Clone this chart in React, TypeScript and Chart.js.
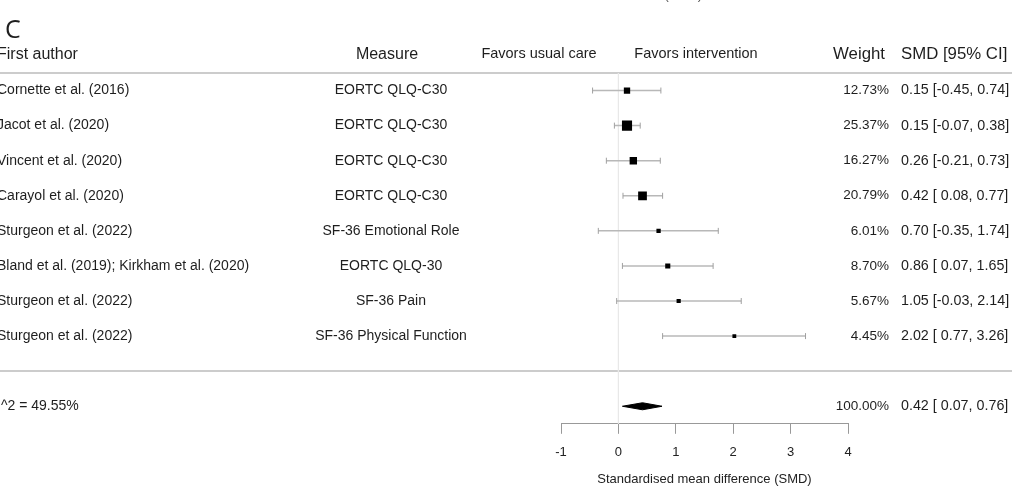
import { useEffect, useRef } from "react";
import { Chart, registerables } from "chart.js";

Chart.register(...registerables);

const FONT = '"Liberation Sans", Arial, Helvetica, sans-serif';

// ---- data ----
const authors = [
  "Cornette et al. (2016)",
  "Jacot et al. (2020)",
  "Vincent et al. (2020)",
  "Carayol et al. (2020)",
  "Sturgeon et al. (2022)",
  "Bland et al. (2019); Kirkham et al. (2020)",
  "Sturgeon et al. (2022)",
  "Sturgeon et al. (2022)",
];
const measures = [
  "EORTC QLQ-C30",
  "EORTC QLQ-C30",
  "EORTC QLQ-C30",
  "EORTC QLQ-C30",
  "SF-36 Emotional Role",
  "EORTC QLQ-30",
  "SF-36 Pain",
  "SF-36 Physical Function",
];
const weights = [12.73, 25.37, 16.27, 20.79, 6.01, 8.7, 5.67, 4.45];
const smd = [0.15, 0.15, 0.26, 0.42, 0.7, 0.86, 1.05, 2.02];
const ciLow = [-0.45, -0.07, -0.21, 0.08, -0.35, 0.07, -0.03, 0.77];
const ciHigh = [0.74, 0.38, 0.73, 0.77, 1.74, 1.65, 2.14, 3.26];
const pooledWeight = 100;
const pooledEst = 0.42;
const pooledLow = 0.07;
const pooledHigh = 0.76;
const i2 = 49.55;
const xTicks = [-1, 0, 1, 2, 3, 4];

const fmtLow = (v: number) => (v < 0 ? v.toFixed(2) : " " + v.toFixed(2));
const fmtCI = (e: number, l: number, h: number) =>
  `${e.toFixed(2)} [${fmtLow(l)}, ${h.toFixed(2)}]`;

export default function App() {
  const ref = useRef<HTMLCanvasElement>(null);

  useEffect(() => {
    if (!ref.current) return;
    const rows = authors.map((_, i) => i + 1);
    const summaryRow = 10;
    const sepRow = 9;
    const headerRow = 0;

    const datasets: any[] = [];
    // reference line at 0
    datasets.push({
      data: [
        { x: 0, y: 0.5 },
        { x: 0, y: 10.5 },
      ],
      borderColor: "#e8e8e8",
      borderWidth: 1,
      pointRadius: 0,
      order: 20,
    });
    // confidence intervals
    rows.forEach((r, i) => {
      datasets.push({
        data: [
          { x: ciLow[i], y: r },
          { x: ciHigh[i], y: r },
        ],
        borderColor: "#b8b8b8",
        borderWidth: 1.5,
        pointStyle: "line",
        pointRotation: 90,
        pointRadius: 3,
        pointBorderColor: "#a0a0a0",
        pointBorderWidth: 1,
        order: 10,
      });
    });
    // point estimates
    datasets.push({
      data: rows.map((r, i) => ({ x: smd[i], y: r })),
      showLine: false,
      pointStyle: "rect",
      pointRadius: weights.map((w) => (2.5 + 0.3 * w) / Math.SQRT2),
      pointBackgroundColor: "#000",
      pointBorderWidth: 0,
      order: 1,
    });
    // pooled diamond
    datasets.push({
      data: [
        { x: pooledLow, y: summaryRow },
        { x: pooledEst, y: summaryRow - 0.1 },
        { x: pooledHigh, y: summaryRow },
        { x: pooledEst, y: summaryRow + 0.1 },
        { x: pooledLow, y: summaryRow },
      ],
      borderColor: "#000",
      borderWidth: 1,
      backgroundColor: "#000",
      fill: "shape",
      pointRadius: 0,
      tension: 0,
      order: 1,
    });

    const textPlugin = {
      id: "forestText",
      beforeDraw(chart: any) {
        const ctx = chart.ctx;
        const y = chart.scales.y;
        ctx.save();
        ctx.strokeStyle = "#cccccc";
        ctx.lineWidth = 2;
        [0.5, sepRow].forEach((v) => {
          const py = Math.round(y.getPixelForValue(v));
          ctx.beginPath();
          ctx.moveTo(0, py);
          ctx.lineTo(1012, py);
          ctx.stroke();
        });
        ctx.restore();
      },
      afterDraw(chart: any) {
        const ctx = chart.ctx;
        const y = chart.scales.y;
        ctx.save();
        ctx.fillStyle = "#1e1e1e";
        ctx.textBaseline = "middle";

        // panel letter
        ctx.font = `25px "Open Sans", ${FONT}`;
        ctx.textAlign = "left";
        ctx.fillText("C", 5, 31);

        // clipped top text
        ctx.font = `13px ${FONT}`;
        ctx.fillStyle = "#555";
        ctx.textAlign = "right";
        ctx.fillText("Standardised mean difference (SMD)", 702, -5);

        ctx.fillStyle = "#1e1e1e";
        const hy = y.getPixelForValue(headerRow) - 1;
        ctx.font = `16px ${FONT}`;
        ctx.textAlign = "left";
        ctx.fillText("First author", -3, hy);
        ctx.textAlign = "center";
        ctx.fillText("Measure", 387, hy);
        ctx.font = `14.5px ${FONT}`;
        ctx.fillText("Favors usual care", 539, hy);
        ctx.fillText("Favors intervention", 696, hy);
        ctx.font = `16.8px ${FONT}`;
        ctx.textAlign = "right";
        ctx.fillText("Weight", 885, hy);
        ctx.textAlign = "left";
        ctx.fillText("SMD [95% CI]", 901, hy);

        rows.forEach((r, i) => {
          const py = y.getPixelForValue(r);
          ctx.font = `14px ${FONT}`;
          ctx.textAlign = "left";
          ctx.fillText(authors[i], -3, py);
          ctx.textAlign = "center";
          ctx.fillText(measures[i], 391, py);
          ctx.font = `13.5px ${FONT}`;
          ctx.textAlign = "right";
          ctx.fillText(weights[i].toFixed(2) + "%", 889, py);
          ctx.font = `14.3px ${FONT}`;
          ctx.textAlign = "left";
          ctx.fillText(fmtCI(smd[i], ciLow[i], ciHigh[i]), 901, py);
        });

        const sy = y.getPixelForValue(summaryRow);
        ctx.font = `14px ${FONT}`;
        ctx.textAlign = "left";
        ctx.fillText(`I^2 = ${i2.toFixed(2)}%`, -3, sy);
        ctx.font = `13.5px ${FONT}`;
        ctx.textAlign = "right";
        ctx.fillText(pooledWeight.toFixed(2) + "%", 889, sy);
        ctx.font = `14.3px ${FONT}`;
        ctx.textAlign = "left";
        ctx.fillText(fmtCI(pooledEst, pooledLow, pooledHigh), 901, sy);
        ctx.restore();
      },
    };

    const chart = new Chart(ref.current, {
      type: "line",
      data: { datasets },
      options: {
        animation: false,
        responsive: false,
        devicePixelRatio: 1,
        layout: { padding: { left: 561, right: 167, top: 73, bottom: 3 } },
        plugins: { legend: { display: false }, tooltip: { enabled: false } },
        elements: { line: { tension: 0 } },
        scales: {
          x: {
            type: "linear",
            min: xTicks[0],
            max: xTicks[xTicks.length - 1],
            afterBuildTicks: (scale: any) => {
              scale.ticks = xTicks.map((v) => ({ value: v }));
            },
            ticks: {
              font: { family: FONT, size: 13 },
              color: "#222",
              padding: 11,
            },
            grid: {
              drawOnChartArea: false,
              drawTicks: true,
              tickLength: 10,
              color: "#999",
            },
            border: { display: true, color: "#999", width: 1 },
            title: {
              display: true,
              text: "Standardised mean difference (SMD)",
              font: { family: FONT, size: 13 },
              color: "#222",
              padding: { top: 0, bottom: 0 },
            },
          },
          y: {
            type: "linear",
            display: false,
            min: 0.5,
            max: 10.5,
            reverse: true,
          },
        },
      },
      plugins: [textPlugin],
    });
    return () => chart.destroy();
  }, []);

  return (
    <div style={{ position: "fixed", left: 0, top: 0, width: 1015, height: 490, background: "#fff" }}>
      <canvas ref={ref} width={1015} height={490} style={{ display: "block" }} />
    </div>
  );
}
